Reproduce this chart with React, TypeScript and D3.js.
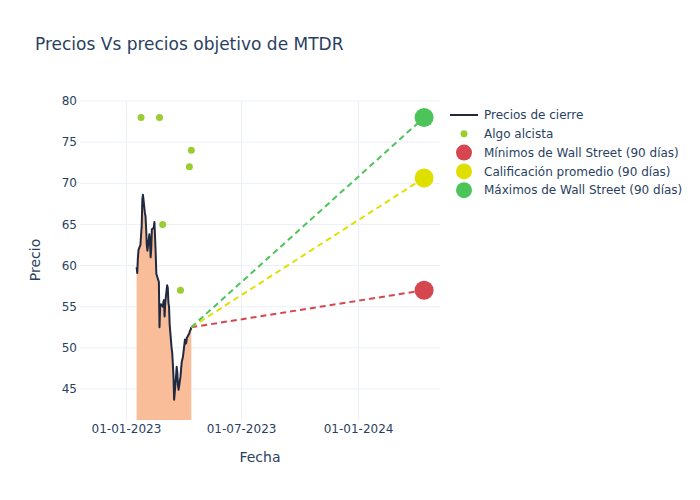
import React from "react";
import * as d3 from "d3";

const priceDates: string[] = [
  "2023-01-17","2023-01-18","2023-01-19","2023-01-20","2023-01-23","2023-01-24","2023-01-25","2023-01-26","2023-01-27","2023-01-30","2023-01-31",
  "2023-02-01","2023-02-02","2023-02-03","2023-02-06","2023-02-07","2023-02-08","2023-02-09","2023-02-10","2023-02-13","2023-02-14","2023-02-15","2023-02-16","2023-02-17","2023-02-21","2023-02-22","2023-02-23","2023-02-24","2023-02-27","2023-02-28",
  "2023-03-01","2023-03-02","2023-03-03","2023-03-06","2023-03-07","2023-03-08","2023-03-09","2023-03-10","2023-03-13","2023-03-14","2023-03-15","2023-03-16","2023-03-17","2023-03-20","2023-03-21","2023-03-22","2023-03-23","2023-03-24","2023-03-27","2023-03-28","2023-03-29","2023-03-30","2023-03-31",
  "2023-04-03","2023-04-04","2023-04-05","2023-04-06","2023-04-10","2023-04-11","2023-04-12","2023-04-13",
];
const priceValues: number[] = [
  59.8, 59.1, 60.9, 61.9, 62.5, 63.7, 64.8, 68.0, 68.6, 66.4, 66.0,
  64.5, 62.5, 61.8, 63.8, 63.0, 61.0, 62.0, 64.4, 64.6, 65.3, 63.5, 61.5, 59.0, 58.0, 52.5, 55.0, 55.3, 55.0, 55.5,
  55.8, 53.8, 55.5, 57.6, 57.3, 55.5, 55.0, 52.8, 50.0, 49.4, 48.0, 46.5, 43.7, 46.5, 47.7, 47.0, 45.5, 44.9,
  46.5, 47.5, 48.3, 48.6, 49.0,
  51.0, 50.5, 50.6, 51.2, 51.8, 52.1, 52.2, 52.5,
];

const algoDates: string[] = ["2023-01-24", "2023-02-22", "2023-02-27", "2023-03-27", "2023-04-10", "2023-04-13"];
const algoValues: number[] = [78, 78, 65, 57, 72, 74];

const targetDate = "2024-04-13";
const targetNames: string[] = ["Mínimos de Wall Street (90 días)", "Calificación promedio (90 días)", "Máximos de Wall Street (90 días)"];
const targetValues: number[] = [57, 70.65, 78];
const targetColors: string[] = ["#d6464f", "#e0e000", "#4dc45a"];

const yTicks: number[] = [45, 50, 55, 60, 65, 70, 75, 80];
const xTicks: string[] = ["2023-01-01", "2023-07-01", "2024-01-01"];
const xDomain: string[] = ["2022-10-20", "2024-05-08"];
const yDomain: number[] = [41.23, 80.12];

const FONT = "'DejaVu Sans', Verdana, sans-serif";
const TEXT = "#2a3f5f";
const GRID = "#ebf0f8";

export default function App() {
  const W = 700, H = 500;
  const L = 80, R = 440, T = 100, B = 420;
  const parse = d3.utcParse("%Y-%m-%d");
  const x = d3.scaleUtc().domain(xDomain.map((d) => parse(d)!)).range([L, R]);
  const y = d3.scaleLinear().domain(yDomain).range([B, T]);
  const fmt = d3.utcFormat("%d-%m-%Y");

  const pts = priceDates.map((d, i) => ({ d: parse(d)!, v: priceValues[i] }));
  const line = d3.line<{ d: Date; v: number }>().x((p) => x(p.d)).y((p) => y(p.v));
  const area = d3.area<{ d: Date; v: number }>().x((p) => x(p.d)).y0(B).y1((p) => y(p.v));
  const last = pts[pts.length - 1];
  const tD = parse(targetDate)!;

  const legendItems = ["Precios de cierre", "Algo alcista", ...targetNames];

  return (
    <svg width={W} height={H} style={{ position: "absolute", left: 0, top: 0, background: "#fff" }} fontFamily={FONT}>
      <rect x={0} y={0} width={W} height={H} fill="#fff" />
      <defs>
        <clipPath id="plotclip"><rect x={L} y={T} width={R - L} height={B - T} /></clipPath>
      </defs>
      {yTicks.map((t) => (
        <line key={"yg" + t} x1={L} x2={R} y1={y(t)} y2={y(t)} stroke={GRID} strokeWidth={1} />
      ))}
      {xTicks.map((t) => (
        <line key={"xg" + t} x1={x(parse(t)!)} x2={x(parse(t)!)} y1={T} y2={B} stroke={GRID} strokeWidth={1} />
      ))}
      <g clipPath="url(#plotclip)">
        <path d={area(pts)!} fill="#f9be99" />
        <path d={line(pts)!} fill="none" stroke="#1f2940" strokeWidth={2} strokeLinejoin="round" />
        {targetValues.map((v, i) => (
          <line key={"tl" + i} x1={x(last.d)} y1={y(last.v)} x2={x(tD)} y2={y(v)} stroke={targetColors[i]} strokeWidth={2} strokeDasharray="6,4" />
        ))}
        {algoDates.map((d, i) => (
          <circle key={"a" + i} cx={x(parse(d)!)} cy={y(algoValues[i])} r={3.5} fill="#9acd32" />
        ))}
        {targetValues.map((v, i) => (
          <circle key={"tm" + i} cx={x(tD)} cy={y(v)} r={9.5} fill={targetColors[i]} />
        ))}
      </g>
      {yTicks.map((t) => (
        <text key={"yt" + t} x={L - 3} y={y(t)} dy="0.35em" textAnchor="end" fontSize={12} fill={TEXT}>{t}</text>
      ))}
      {xTicks.map((t) => (
        <text key={"xt" + t} x={x(parse(t)!)} y={B + 9} dy="0.35em" textAnchor="middle" fontSize={12} fill={TEXT}>{fmt(parse(t)!)}</text>
      ))}
      <text x={(L + R) / 2} y={457} dy="0.35em" textAnchor="middle" fontSize={14} fill={TEXT}>Fecha</text>
      <text transform={`translate(35,${(T + B) / 2}) rotate(-90)`} dy="0.35em" textAnchor="middle" fontSize={14} fill={TEXT}>Precio</text>
      <text x={35} y={44} dy="0.35em" fontSize={17} fill={TEXT}>Precios Vs precios objetivo de MTDR</text>
      {legendItems.map((name, i) => {
        const ly = 115 + i * 18.8;
        return (
          <g key={"lg" + i}>
            {i === 0 && <line x1={450} x2={478} y1={ly} y2={ly} stroke="#1f2940" strokeWidth={2} />}
            {i === 1 && <circle cx={464} cy={ly} r={3.5} fill="#9acd32" />}
            {i >= 2 && <circle cx={464} cy={ly} r={8} fill={targetColors[i - 2]} />}
            <text x={484} y={ly} dy="0.35em" fontSize={12} fill={TEXT}>{name}</text>
          </g>
        );
      })}
    </svg>
  );
}
